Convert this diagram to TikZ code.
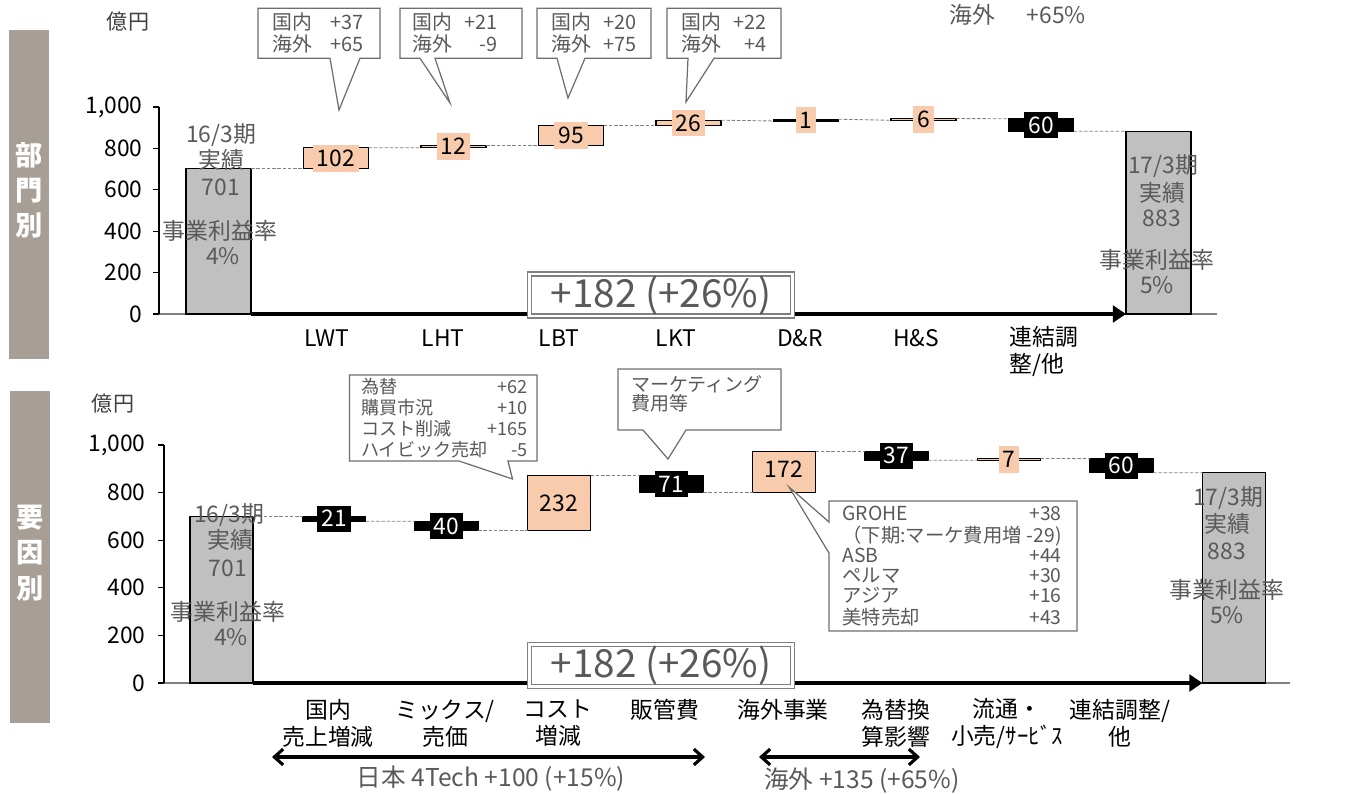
\documentclass[tikz,border=0pt]{standalone}
\usepackage{fontspec}
\setmainfont{Noto Sans CJK JP}
\usetikzlibrary{arrows.meta,fit}
\definecolor{txtg}{RGB}{89,89,89}
\definecolor{orng}{RGB}{248,203,173}
\definecolor{barg}{RGB}{192,192,192}
\definecolor{sidec}{RGB}{167,158,150}
\definecolor{callc}{RGB}{110,110,110}
\definecolor{dashc}{RGB}{130,130,130}
\definecolor{axc}{RGB}{128,128,128}
\newcommand{\myfs}[2]{\fontsize{#1}{#2}\selectfont}
\begin{document}
\begin{tikzpicture}[x=0.02cm,y=-0.02cm,
  wbar/.style={inner sep=0pt,outer sep=0pt,line width=0.6pt,draw=black},
  obar/.style={wbar,fill=orng},
  kbar/.style={wbar,fill=black},
  gbar/.style={wbar,fill=barg},
  vlo/.style={fill=orng,text=black,inner xsep=2.3pt,inner ysep=0pt,minimum height=15pt,font=\myfs{13}{15}},
  vlk/.style={vlo,fill=black,text=white},
  conn/.style={draw=dashc,dash pattern=on 2pt off 1pt,line width=0.5pt},
  ticklbl/.style={anchor=east,inner sep=0pt,font=\myfs{13}{15}},
  cat/.style={align=center,inner sep=0pt,font=\myfs{13}{15.3}},
  intxt/.style={text=txtg,inner sep=0pt,font=\myfs{13}{15}},
  callout/.style={draw=callc,fill=white,line width=0.7pt,line join=miter},
  calltxt/.style={text=txtg,inner sep=0pt,font=\myfs{11.3}{11.3}},
  bigbox/.style={draw=axc,double=white,double distance=1.3pt,line width=0.8pt,fill=white,text=txtg,font=\myfs{22}{24},minimum width=5.26cm,minimum height=0.84cm,inner sep=0pt},
  bigarr/.style={line width=2.6pt,-{Triangle[length=7.5pt,width=9.5pt]}},
  dblarr/.style={line width=1.8pt,{Straight Barb[length=5pt,width=9pt]}-{Straight Barb[length=5pt,width=9pt]}},
  side/.style={fill=sidec,inner sep=0pt,outer sep=0pt},
  sidetxt/.style={text=white,font=\bfseries\myfs{15.5}{20},align=center,inner sep=0pt},
  axl/.style={line width=0.6pt,draw=black},
  basel/.style={line width=0.8pt,draw=axc},
  unit/.style={text=black!75,font=\myfs{12}{14},inner sep=0pt},
  note/.style={text=txtg,font=\myfs{14}{16},inner sep=0pt},
]
\useasboundingbox (0,0) rectangle (1367,794);

% ---------- side boxes ----------
\node[side,fit={(9,30)(49,359)}] (sideA) {};
\node[sidetxt] (sideAt) at (29,190) {部\\門\\別};
\node[side,fit={(10,391)(50,723)}] (sideB) {};
\node[sidetxt] (sideBt) at (30,553) {要\\因\\別};

% ================= TOP CHART =================
\node[unit] (unitA) at (128,22) {億円};
\coordinate (axTopA) at (159,107);
\coordinate (axOA) at (159,314);
\coordinate (axEA) at (1217,314);
\draw[basel] (axOA) -- (axEA);
\draw[axl] (axTopA) -- (axOA);
\foreach \yy in {314,272.6,231.2,189.8,148.4,107} \draw[axl] (153,\yy) -- (159,\yy);
\node[ticklbl] (tkA0) at (143,314) {0};
\node[ticklbl] (tkA2) at (143,272.6) {200};
\node[ticklbl] (tkA4) at (143,231.2) {400};
\node[ticklbl] (tkA6) at (143,189.8) {600};
\node[ticklbl] (tkA8) at (143,148.4) {800};
\node[ticklbl] (tkA10) at (143,107) {1,000};

\node[gbar,fit={(186,168.9)(251,314)}] (bA0) {};
\node[obar,fit={(303.5,147.8)(368.5,168.9)}] (bA1) {};
\node[obar,fit={(421,145.3)(486,147.8)}] (bA2) {};
\node[obar,fit={(538.5,125.6)(603.5,145.3)}] (bA3) {};
\node[obar,fit={(656,120.2)(721,125.6)}] (bA4) {};
\node[obar,fit={(773.5,120.0)(838.5,120.2)}] (bA5) {};
\node[obar,fit={(891,118.8)(956,120.0)}] (bA6) {};
\node[kbar,fit={(1008.5,118.8)(1073.5,131.2)}] (bA7) {};
\node[gbar,fit={(1126,131.2)(1191,314)}] (bA8) {};

\draw[conn] (bA0.north east) -- (bA1.south west);
\draw[conn] (bA1.north east) -- (bA2.south west);
\draw[conn] (bA2.north east) -- (bA3.south west);
\draw[conn] (bA3.north east) -- (bA4.south west);
\draw[conn] (bA4.north east) -- (bA5.south west);
\draw[conn] (bA5.north east) -- (bA6.south west);
\draw[conn] (bA6.north east) -- (bA7.north west);
\draw[conn] (bA7.south east) -- (bA8.north west);

\node[vlo] (vA1) at (bA1) {102};
\node[vlo] (vA2) at (bA2) {12};
\node[vlo] (vA3) at (bA3) {95};
\node[vlo] (vA4) at (bA4) {26};
\node[vlo] (vA5) at (bA5) {1};
\node[vlo] (vA6) at (bA6) {6};
\node[vlk] (vA7) at (bA7) {60};

\node[intxt] (iA1) at (221,135) {16/3期};
\node[intxt] (iA2) at (221,160) {実績};
\node[intxt] (iA3) at (221,187) {701};
\node[intxt] (iA4) at (220,231) {事業利益率};
\node[intxt] (iA5) at (223,256) {4\%};
\node[intxt] (iA6) at (1163,166) {17/3期};
\node[intxt] (iA7) at (1162,193) {実績};
\node[intxt] (iA8) at (1162,218) {883};
\node[intxt] (iA9) at (1157,260) {事業利益率};
\node[intxt] (iA10) at (1157,285) {5\%};

\draw[bigarr] (bA0.south east) -- (bA8.south west);
\node[bigbox] (totA) at (661,295) {+182 (+26\%)};

\node[cat] (cA1) at (327,338) {LWT};
\node[cat] (cA2) at (443,338) {LHT};
\node[cat] (cA3) at (559,338) {LBT};
\node[cat] (cA4) at (676,338) {LKT};
\node[cat] (cA5) at (800,338) {D\&R};
\node[cat] (cA6) at (916,338) {H\&S};
\node[cat,anchor=west,align=left] (cA7) at (1009,351.5) {連結調\\整/他};

% top callouts
\draw[callout] (258,8.3) -- (380,8.3) -- (380,58.3) -- (360,58.3) -- (339,110) -- (330,58.3) -- (258,58.3) -- cycle;
\node[calltxt] (kA1) at (318,35) {\renewcommand{\arraystretch}{0.94}\begin{tabular}{@{}l@{\hspace{10pt}}r@{}}国内&+37\\海外&+65\end{tabular}};
\draw[callout] (400,8.3) -- (522,8.3) -- (522,58.3) -- (435,58.3) -- (450,103) -- (420,58.3) -- (400,58.3) -- cycle;
\node[calltxt] (kA2) at (455,35) {\renewcommand{\arraystretch}{0.94}\begin{tabular}{@{}l@{\hspace{7pt}}r@{}}国内&+21\\海外&-9\end{tabular}};
\draw[callout] (537,8.3) -- (651,8.3) -- (651,58.3) -- (585,58.3) -- (568,98) -- (557,58.3) -- (537,58.3) -- cycle;
\node[calltxt] (kA3) at (594,35) {\renewcommand{\arraystretch}{0.94}\begin{tabular}{@{}l@{\hspace{7pt}}r@{}}国内&+20\\海外&+75\end{tabular}};
\draw[callout] (667,8.3) -- (781,8.3) -- (781,58.3) -- (714,58.3) -- (686,102) -- (688,58.3) -- (667,58.3) -- cycle;
\node[calltxt] (kA4) at (724,35) {\renewcommand{\arraystretch}{0.94}\begin{tabular}{@{}l@{\hspace{7pt}}r@{}}国内&+22\\海外&+4\end{tabular}};

\node[note,anchor=west,font=\myfs{13}{15}] (noteA) at (949,15) {海外\hspace{18pt}+65\%};

% ================= BOTTOM CHART =================
\node[unit] (unitB) at (113,404) {億円};
\coordinate (axTopB) at (164,445);
\coordinate (axOB) at (164,683);
\coordinate (axEB) at (1290,683);
\draw[basel] (axOB) -- (axEB);
\draw[axl] (axTopB) -- (axOB);
\foreach \yy in {683,635.4,587.8,540.2,492.6,445} \draw[axl] (158,\yy) -- (164,\yy);
\node[ticklbl] (tkB0) at (146,683) {0};
\node[ticklbl] (tkB2) at (146,635.4) {200};
\node[ticklbl] (tkB4) at (146,587.8) {400};
\node[ticklbl] (tkB6) at (146,540.2) {600};
\node[ticklbl] (tkB8) at (146,492.6) {800};
\node[ticklbl] (tkB10) at (146,445) {1,000};

\node[gbar,fit={(190,516.2)(253,683)}] (bB0) {};
\node[kbar,fit={(302.5,516.2)(365.5,521.2)}] (bB1) {};
\node[kbar,fit={(415,521.2)(478,530.7)}] (bB2) {};
\node[obar,fit={(527.5,475.5)(590.5,530.7)}] (bB3) {};
\node[kbar,fit={(640,475.5)(703,492.4)}] (bB4) {};
\node[obar,fit={(752.5,451.4)(815.5,492.4)}] (bB5) {};
\node[kbar,fit={(865,451.4)(928,460.2)}] (bB6) {};
\node[obar,fit={(977.5,458.6)(1040.5,460.2)}] (bB7) {};
\node[kbar,fit={(1090,458.6)(1153,472.8)}] (bB8) {};
\node[gbar,fit={(1202.5,472.8)(1265.5,683)}] (bB9) {};

\draw[conn] (bB0.north east) -- (bB1.north west);
\draw[conn] (bB1.south east) -- (bB2.north west);
\draw[conn] (bB2.south east) -- (bB3.south west);
\draw[conn] (bB3.north east) -- (bB4.north west);
\draw[conn] (bB4.south east) -- (bB5.south west);
\draw[conn] (bB5.north east) -- (bB6.north west);
\draw[conn] (bB6.south east) -- (bB7.south west);
\draw[conn] (bB7.north east) -- (bB8.north west);
\draw[conn] (bB8.south east) -- (bB9.north west);

\node[vlk] (vB1) at (bB1) {21};
\node[vlk] (vB2) at (bB2) {40};
\node[vlo] (vB3) at (bB3) {232};
\node[vlk] (vB4) at (bB4) {71};
\node[vlo] (vB5) at (784,469) {172};
\node[vlk] (vB6) at (bB6) {37};
\node[vlo] (vB7) at (bB7) {7};
\node[vlk] (vB8) at (bB8) {60};

\node[intxt] (iB1) at (229,515) {16/3期};
\node[intxt] (iB2) at (230,540) {実績};
\node[intxt] (iB3) at (228,568) {701};
\node[intxt] (iB4) at (228,612) {事業利益率};
\node[intxt] (iB5) at (231,637) {4\%};
\node[intxt] (iB6) at (1228,498) {17/3期};
\node[intxt] (iB7) at (1227,524) {実績};
\node[intxt] (iB8) at (1227,551) {883};
\node[intxt] (iB9) at (1227,590) {事業利益率};
\node[intxt] (iB10) at (1227,615) {5\%};

\draw[bigarr] (bB0.south east) -- (bB9.south west);
\node[bigbox] (totB) at (661,665.5) {+182 (+26\%)};

\node[cat] (cB1) at (328,723.5) {国内\\売上増減};
\node[cat] (cB2) at (445,723.5) {ミックス/\\売価};
\node[cat] (cB3) at (558,723.5) {コスト\\増減};
\node[cat] (cB4) at (665,710) {販管費};
\node[cat] (cB5) at (783,710) {海外事業};
\node[cat] (cB6) at (896,723.5) {為替換\\算影響};
\node[cat] (cB7) at (1007,723.5) {流通・\\小売/ｻｰﾋﾞｽ};
\node[cat] (cB8) at (1120,723.5) {連結調整/\\他};

% bottom callouts
\draw[callout] (349.5,375) -- (537,375) -- (537,461) -- (508,461) -- (512.5,479) -- (459,461) -- (349.5,461) -- cycle;
\node[calltxt,font=\myfs{10.3}{11.5}] (kB1) at (442,420) {\renewcommand{\arraystretch}{0.96}\begin{tabular*}{92pt}{@{}l@{\extracolsep{\fill}}r@{}}為替&+62\\購買市況&+10\\コスト削減&+165\\ハイビック売却&-5\end{tabular*}};
\draw[callout] (618,369) -- (781,369) -- (781,430) -- (686,430) -- (668,459) -- (643,430) -- (618,430) -- cycle;
\node[calltxt,anchor=west,align=left,font=\myfs{10.8}{10.8}] (kB2) at (631,393.5) {マーケティング\\費用等};
\draw[callout] (829,501) -- (1077,501) -- (1077,631) -- (829,631) -- (829,553) -- (789,487) -- (829,522) -- cycle;
\node[calltxt,font=\myfs{11}{11.1}] (kB3) at (952,568) {\renewcommand{\arraystretch}{0.925}\begin{tabular*}{124.7pt}{@{}l@{\extracolsep{\fill}}r@{}}GROHE&+38\\（下期:マーケ費用増&-29)\\ASB&+44\\ペルマ&+30\\アジア&+16\\美特売却&+43\end{tabular*}};

% range arrows
\coordinate (jpL) at (272,757);
\coordinate (jpR) at (705,757);
\coordinate (ovL) at (759,757);
\coordinate (ovR) at (920,757);
\draw[dblarr] (jpL) -- (jpR);
\draw[dblarr] (ovL) -- (ovR);
\node[note] (jpT) at (491,779) {日本 4Tech +100 (+15\%)};
\node[note,anchor=west] (ovT) at (764,781) {海外 +135 (+65\%)};
\end{tikzpicture}
\end{document}
